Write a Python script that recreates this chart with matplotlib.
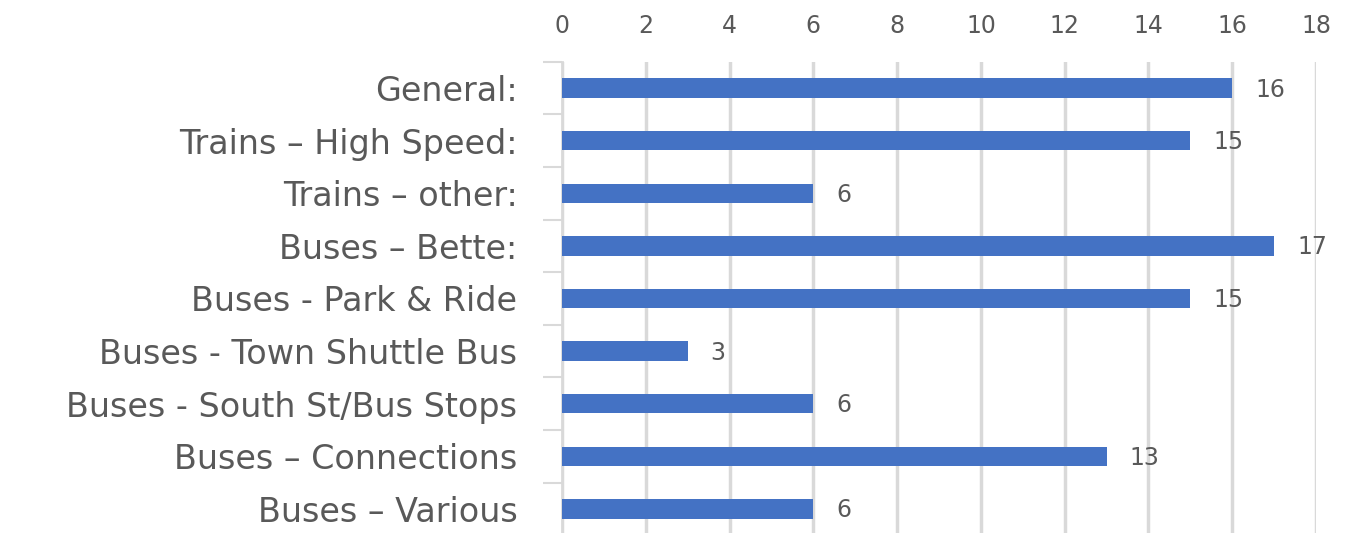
import numpy as np
import matplotlib
matplotlib.use("Agg")
import matplotlib.pyplot as plt

# categorias y valores
categorias = ["General:", "Trains \u2013 High Speed:", "Trains \u2013 other:",
              "Buses \u2013 Bette:", "Buses - Park & Ride", "Buses - Town Shuttle Bus",
              "Buses - South St/Bus Stops", "Buses \u2013 Connections", "Buses \u2013 Various"]
valores = [16, 15, 6, 17, 15, 3, 6, 13, 6]
ticks_x = [0, 2, 4, 6, 8, 10, 12, 14, 16, 18]

gris = "#595959"
azul = "#4472C4"
plt.rcParams['font.family'] = ['DejaVu Sans']

fig = plt.figure(figsize=(13.54, 5.33), dpi=100)
ax = fig.add_axes([0.415, -0.004, 0.557, 0.888])

y = np.arange(len(categorias))
ax.barh(y, valores, height=0.37, color=azul, zorder=3)
ax.set_ylim(len(categorias) - 0.5, -0.5)
ax.set_xlim(0, 18)
ax.set_xticks(ticks_x)
ax.xaxis.tick_top()
ax.tick_params(axis='x', length=0, labelsize=17, labelcolor=gris, pad=17)
ax.grid(axis='x', color="#D9D9D9", linewidth=2.5, zorder=0)

# marcas del eje y en los limites de categoria
ax.set_yticks(y)
ax.set_yticklabels(categorias)
ax.set_yticks(np.arange(len(categorias) + 1) - 0.5, minor=True)
ax.tick_params(axis='y', which='major', length=0, labelsize=24, labelcolor=gris, pad=32)
ax.tick_params(axis='y', which='minor', length=14, width=1.5, color="#D9D9D9")

for s in ["top", "right", "bottom"]:
    ax.spines[s].set_visible(False)
ax.spines["left"].set_color("#D9D9D9")
ax.spines["left"].set_linewidth(2)

for yi, v in zip(y, valores):
    ax.text(v + 0.55, yi + 0.03, str(v), va='center', ha='left', fontsize=17, color=gris)

plt.savefig("out.png", dpi=100)
